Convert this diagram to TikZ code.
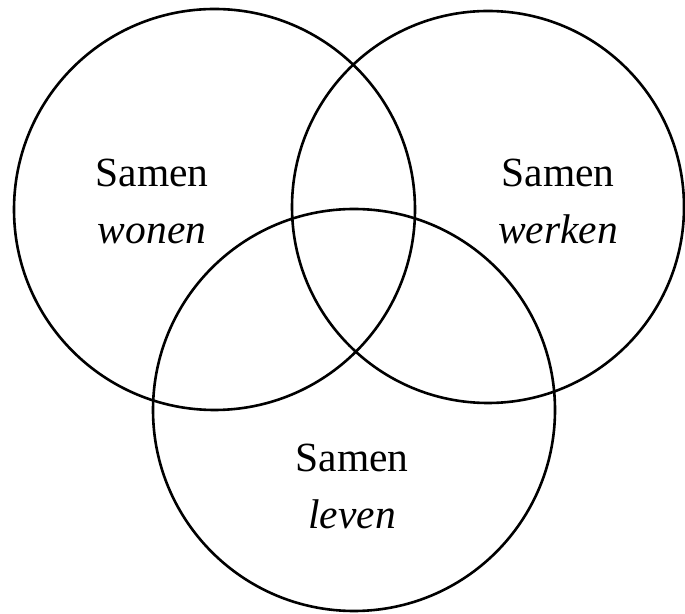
\documentclass[tikz,border=0pt]{standalone}
\usepackage{fontspec}
\setmainfont{Liberation Serif}
\usetikzlibrary{positioning}

\begin{document}
\begin{tikzpicture}[x=1pt, y=1pt,
    ring/.style={draw, circle, line width=2.6pt, inner sep=0pt},
    word/.style={align=center, font=\fontsize{41.5}{57}\selectfont}]
    \useasboundingbox (0,0) rectangle (685,613);

    % Three circles
    \node[ring, minimum size=401pt] (wonen) at (214.5,403.5) {};
    \node[ring, minimum size=392pt] (werken) at (488,406) {};
    \node[ring, minimum size=402pt] (leven) at (354,203) {};

    % Labels
    \node[word] (wonenlabel) at (152,412) {Samen\\\textit{wonen}};
    \node[word] (werkenlabel) at (558,412) {Samen\\\textit{werken}};
    \node[word] (levenlabel) at (352,127) {Samen\\\textit{leven}};
\end{tikzpicture}
\end{document}
